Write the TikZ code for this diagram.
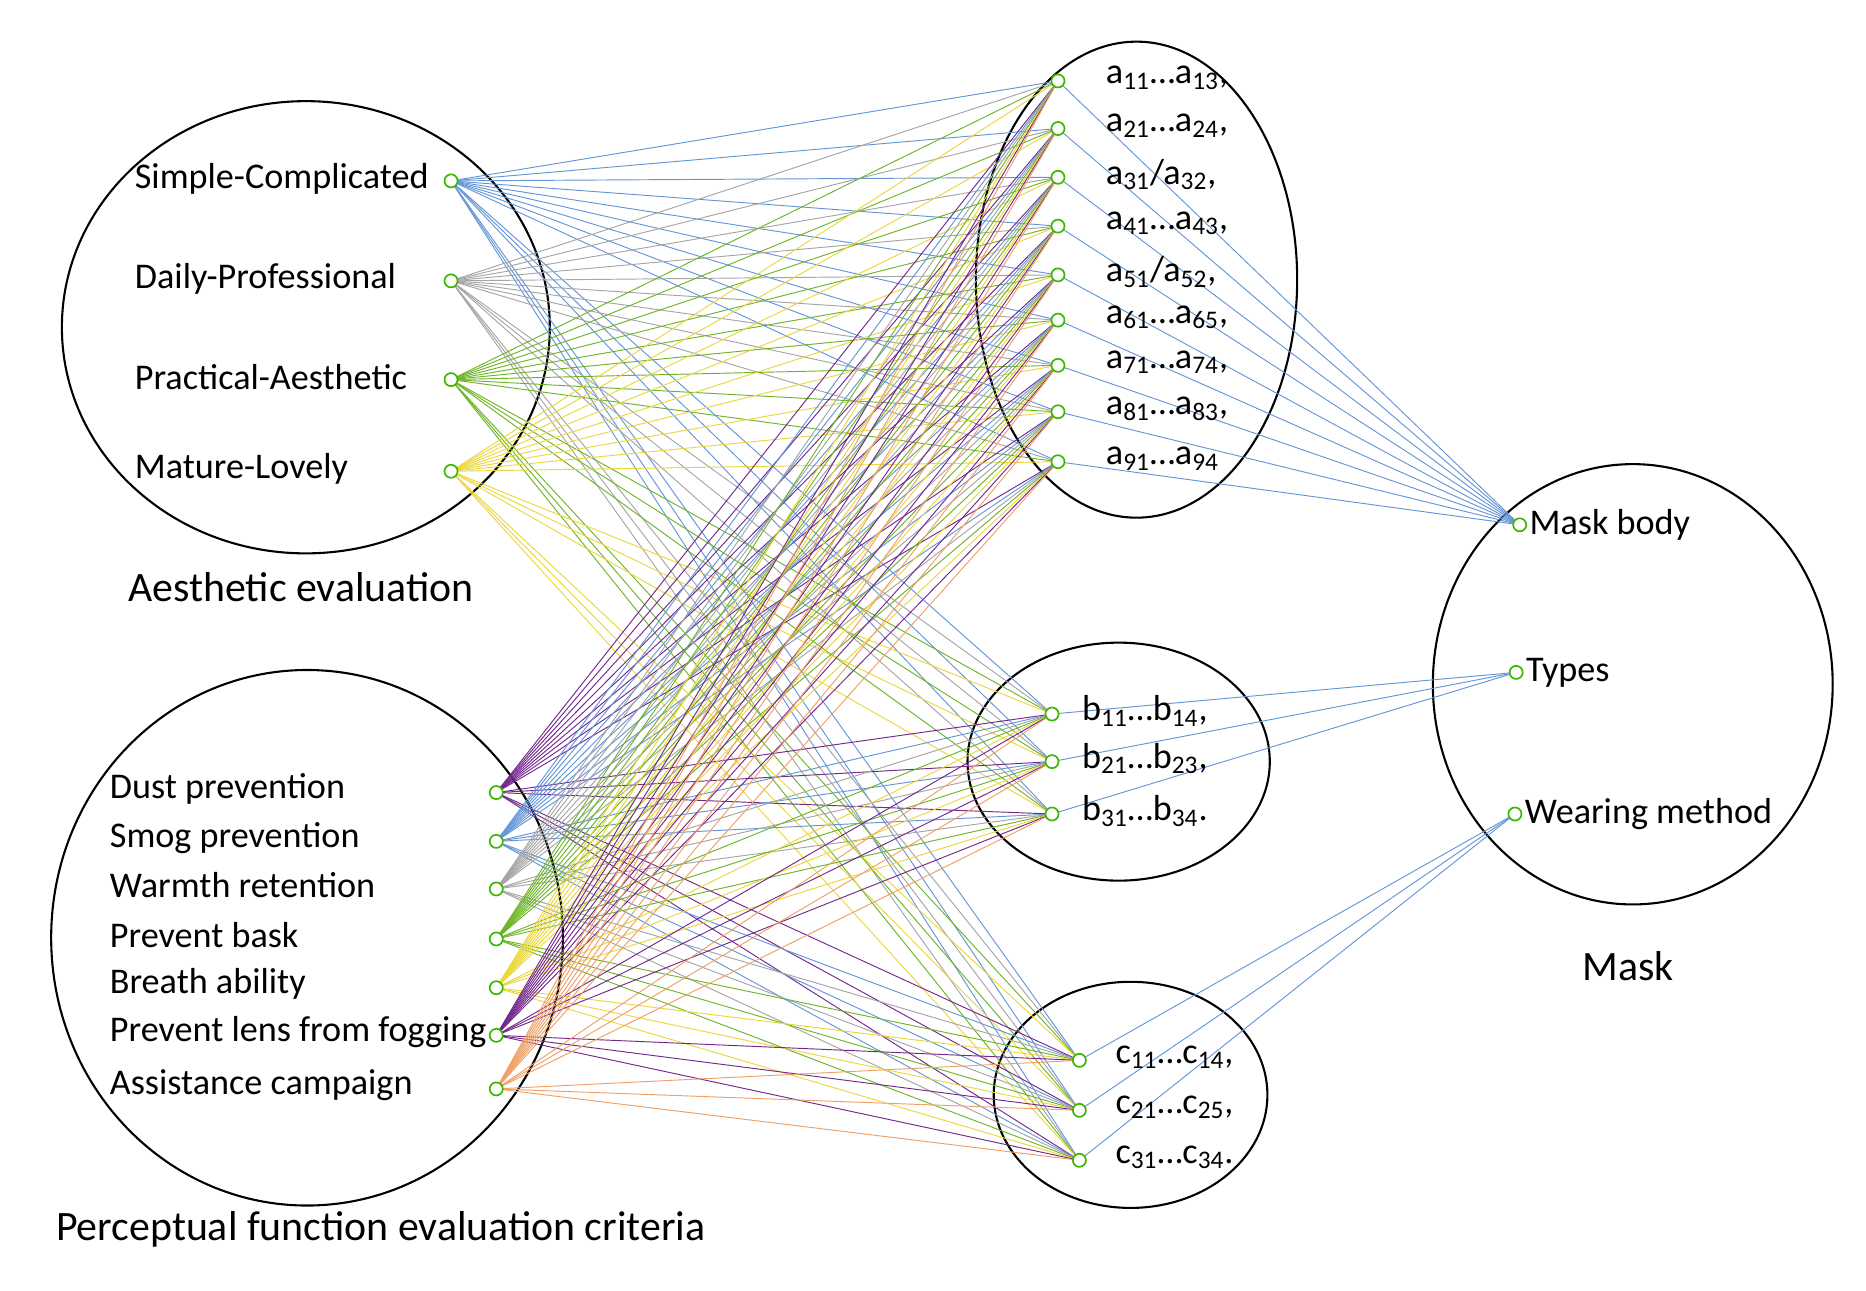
\documentclass[tikz,border=0pt]{standalone}
\usepackage{fontspec}
\setmainfont{Carlito}
\newcommand{\ssb}[1]{\textsubscript{#1}}
\begin{document}
\begin{tikzpicture}[x=0.02cm,y=-0.02cm,
  port/.style={circle,draw=green!60!black!70!lime,line width=0.8pt,inner sep=0pt,minimum size=0.22cm,fill=white},
  big/.style={draw=black,line width=1pt},
  lab/.style={font=\fontsize{17.3}{19}\selectfont,anchor=west,inner sep=0pt},
  title/.style={font=\fontsize{20}{22}\selectfont},
  ln/.style={line width=0.45pt}]
\useasboundingbox (0,0) rectangle (1568,1084);
\definecolor{cb}{RGB}{100,150,215}
\definecolor{cg}{RGB}{165,165,165}
\definecolor{cgr}{RGB}{110,180,40}
\definecolor{cy}{RGB}{235,215,60}
\definecolor{cp}{RGB}{115,40,140}
\definecolor{co}{RGB}{240,160,100}
% ellipses
\draw[big] (257,275) ellipse [x radius=205,y radius=190];
\draw[big] (258,788) ellipse [x radius=215,y radius=225];
\draw[big] (955,235) ellipse [x radius=135,y radius=200];
\draw[big] (940,640) ellipse [x radius=127,y radius=100];
\draw[big] (950,920) ellipse [x radius=115,y radius=95];
\draw[big] (1372,575) ellipse [x radius=168,y radius=185];
\node[title] (capA) at (253,493) {Aesthetic evaluation};
\node[title] (capP) at (320,1033) {Perceptual function evaluation criteria};
\node[title] (capM) at (1368,812) {Mask};
% left ports
\foreach \n/\y/\t in {s1/152/Simple-Complicated,s2/236/Daily-Professional,s3/319/Practical-Aesthetic,s4/396/Mature-Lovely}{
  \coordinate (\n) at (379,\y);
  \node[lab] (t\n) at (113,\y-2) {\t};}
\foreach \n/\y/\t in {p1/666/Dust prevention,p2/707/Smog prevention,p3/747/Warmth retention,p4/789/Prevent bask,p5/830/Breath ability,p6/870/Prevent lens from fogging,p7/915/Assistance campaign}{
  \coordinate (\n) at (417,\y);
  \node[lab] (t\n) at (92,\y-3) {\t};}
% a,b,c ports
\foreach \y [count=\i] in {68,108,149,190,231,269,307,346,388}{\coordinate (a\i) at (889,\y);}
\foreach \y [count=\i] in {600,640,684}{\coordinate (b\i) at (884,\y);}
\foreach \y [count=\i] in {891,933,975}{\coordinate (c\i) at (907,\y);}
\coordinate (m1) at (1277,441);
\coordinate (m2) at (1274,565);
\coordinate (m3) at (1273,684);
% edges
\foreach \s/\c in {s1/cb,s2/cg,s3/cgr,s4/cy,p1/cp,p2/cb,p3/cg,p4/cgr,p5/cy,p6/cp,p7/co}{
  \foreach \t in {a1,a2,a3,a4,a5,a6,a7,a8,a9,b1,b2,b3,c1,c2,c3}{
    \draw[ln,\c] (\s) -- (\t);}}
\foreach \t in {a1,a2,a3,a4,a5,a6,a7,a8,a9}{\draw[ln,cb] (\t) -- (m1);}
\foreach \t in {b1,b2,b3}{\draw[ln,cb] (\t) -- (m2);}
\foreach \t in {c1,c2,c3}{\draw[ln,cb] (\t) -- (m3);}
% port circles
\foreach \n in {s1,s2,s3,s4,p1,p2,p3,p4,p5,p6,p7,a1,a2,a3,a4,a5,a6,a7,a8,a9,b1,b2,b3,c1,c2,c3,m1,m2,m3}{
  \node[port] (o\n) at (\n) {};}
% labels
\foreach \i/\t in {1/{a\ssb{11}…a\ssb{13},},2/{a\ssb{21}…a\ssb{24},},3/{a\ssb{31}/a\ssb{32},},4/{a\ssb{41}…a\ssb{43},},5/{a\ssb{51}/a\ssb{52},},6/{a\ssb{61}…a\ssb{65},},7/{a\ssb{71}…a\ssb{74},},8/{a\ssb{81}…a\ssb{83},},9/{a\ssb{91}…a\ssb{94}}}{
  \node[lab] (la\i) at ([xshift=0.8cm,yshift=0.05cm]a\i) {\t};}
\foreach \i/\t in {1/{b\ssb{11}…b\ssb{14},},2/{b\ssb{21}…b\ssb{23},},3/{b\ssb{31}…b\ssb{34}.}}{
  \node[lab] (lb\i) at ([xshift=0.5cm,yshift=0.05cm]b\i) {\t};}
\foreach \i/\t in {1/{c\ssb{11}…c\ssb{14},},2/{c\ssb{21}…c\ssb{25},},3/{c\ssb{31}…c\ssb{34}.}}{
  \node[lab] (lc\i) at ([xshift=0.6cm,yshift=0.05cm]c\i) {\t};}
\node[lab] (lm1) at ([xshift=0.16cm]m1) {Mask body};
\node[lab] (lm2) at ([xshift=0.16cm]m2) {Types};
\node[lab] (lm3) at ([xshift=0.16cm]m3) {Wearing method};
\end{tikzpicture}
\end{document}
